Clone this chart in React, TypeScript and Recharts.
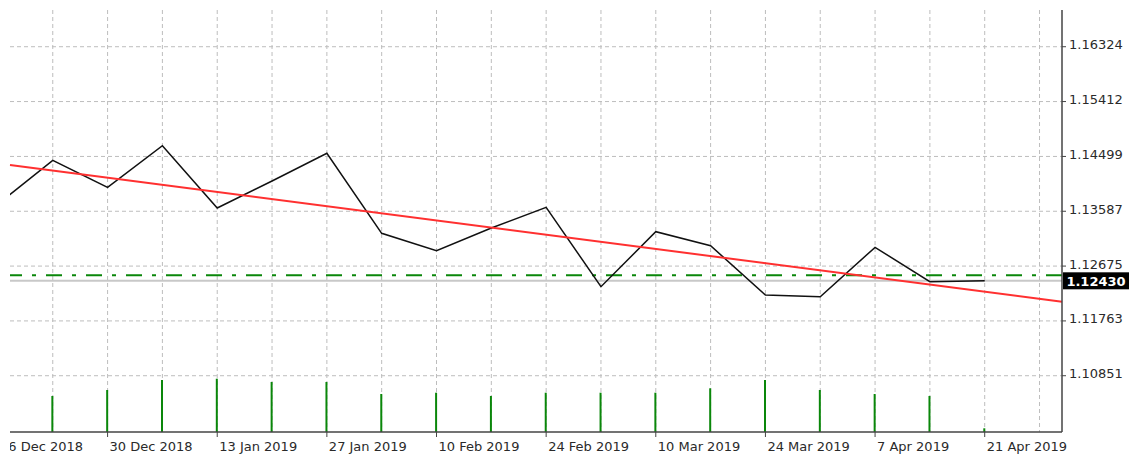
import React from 'react';
import {
    ComposedChart, Line, Bar, XAxis, YAxis, CartesianGrid, ReferenceLine,
} from 'recharts';

// weekly EURUSD closes, index 0 = 23 Dec 2018 (index -1 sits just off the left edge)
const weekIndex = [-1, 0, 1, 2, 3, 4, 5, 6, 7, 8, 9, 10, 11, 12, 13, 14, 15, 16, 17, 18];
const closes = [
    1.13707, 1.14434, 1.13985, 1.14677, 1.13641, 1.14090, 1.14551, 1.13220, 1.12931, 1.13308,
    1.13653, 1.12332, 1.13247, 1.13014, 1.12194, 1.12166, 1.12987, 1.12415, 1.12430, null,
];
const volumes = [
    null, 360, 420, 520, 533, 500, 500, 380, 393, 360,
    393, 393, 393, 437, 520, 420, 380, 360, 37, null,
];
const tickLabels: Record<number, string> = {
    [-1]: '16 Dec 2018', 1: '30 Dec 2018', 3: '13 Jan 2019', 5: '27 Jan 2019', 7: '10 Feb 2019',
    9: '24 Feb 2019', 11: '10 Mar 2019', 13: '24 Mar 2019', 15: '7 Apr 2019', 17: '21 Apr 2019',
};
const priceTicks = [1.16324, 1.15412, 1.14499, 1.13587, 1.12675, 1.11763, 1.10851];
const lastPrice = 1.12430;
const levelPrice = 1.12522;
const trendStart = { x: -0.78, y: 1.14356 };
const trendEnd = { x: 18.41, y: 1.12082 };

const chartData = weekIndex.map((w, i) => ({ week: w, close: closes[i], volume: volumes[i] }));

const FONT = '"DejaVu Sans", sans-serif';

const DateTick = (props: any) => {
    const { x, y, payload } = props;
    const label = tickLabels[payload.value];
    if (!label) return null;
    // the first label runs past the left edge of the chart and is cut there
    return (
        <g>
            <defs>
                <clipPath id={`date-clip-${payload.value}`}><rect x={10} y={0} width={1200} height={465} /></clipPath>
            </defs>
            <line x1={x} y1={y} x2={x} y2={y + 5} stroke="#444" strokeWidth={1} />
            <text x={x + 2} y={y + 19} fill="#2a2a2a" fontSize={13} fontFamily={FONT}
                  clipPath={`url(#date-clip-${payload.value})`}>{label}</text>
        </g>
    );
};

const PriceTick = (props: any) => {
    const { x, y, payload } = props;
    return (
        <g>
            <line x1={x} y1={y} x2={x + 4} y2={y} stroke="#444" strokeWidth={1} />
            <text x={x + 7} y={y + 2.5} fill="#2a2a2a" fontSize={13} fontFamily={FONT}>
                {payload.value.toFixed(5)}
            </text>
        </g>
    );
};

const PriceBox = (props: any) => {
    const vb = props.viewBox || {};
    const bx = vb.x + vb.width + 1;
    const by = vb.y;
    return (
        <g>
            <rect x={bx} y={by - 8.5} width={66} height={17} fill="#000" />
            <text x={bx + 33} y={by + 5} fill="#fff" fontSize={13} fontWeight="bold"
                  fontFamily={FONT} textAnchor="middle">{lastPrice.toFixed(5)}</text>
        </g>
    );
};

export default function App() {
    return (
        <div style={{ width: 1134, height: 465, background: '#fff' }}>
            <style>{'body{margin:0}'}</style>
            <ComposedChart width={1134} height={465} data={chartData}
                           margin={{ top: 10, right: 0, left: 10, bottom: 0 }}>
                <CartesianGrid yAxisId="price" stroke="#bdbdbd" strokeDasharray="4 3" syncWithTicks />
                <XAxis dataKey="week" type="number" domain={[trendStart.x, trendEnd.x]} allowDataOverflow
                       ticks={weekIndex} interval={0} height={33} tickSize={0} tickMargin={0}
                       tickLine={false} axisLine={{ stroke: '#444', strokeWidth: 1.5 }} tick={<DateTick />} />
                <YAxis yAxisId="price" orientation="right" width={72} domain={[1.09915, 1.16935]}
                       allowDataOverflow ticks={priceTicks} interval={0} tickSize={0} tickMargin={0}
                       tickLine={false} axisLine={{ stroke: '#444', strokeWidth: 1.5 }} tick={<PriceTick />} />
                <YAxis yAxisId="vol" hide domain={[0, 4220]} />
                <Bar yAxisId="vol" dataKey="volume" fill="#0a870a" barSize={2} isAnimationActive={false} />
                <ReferenceLine yAxisId="price" y={lastPrice} stroke="#c8c8c8" strokeWidth={2}
                               label={<PriceBox />} />
                <ReferenceLine yAxisId="price" y={levelPrice} stroke="#0a870a" strokeWidth={2}
                               strokeDasharray="16 10 4 10" />
                <Line yAxisId="price" dataKey="close" stroke="#111" strokeWidth={1.5} dot={false}
                      type="linear" isAnimationActive={false} />
                <ReferenceLine yAxisId="price" segment={[trendStart, trendEnd]} stroke="#ff3030"
                               strokeWidth={2} ifOverflow="visible" />
            </ComposedChart>
        </div>
    );
}
